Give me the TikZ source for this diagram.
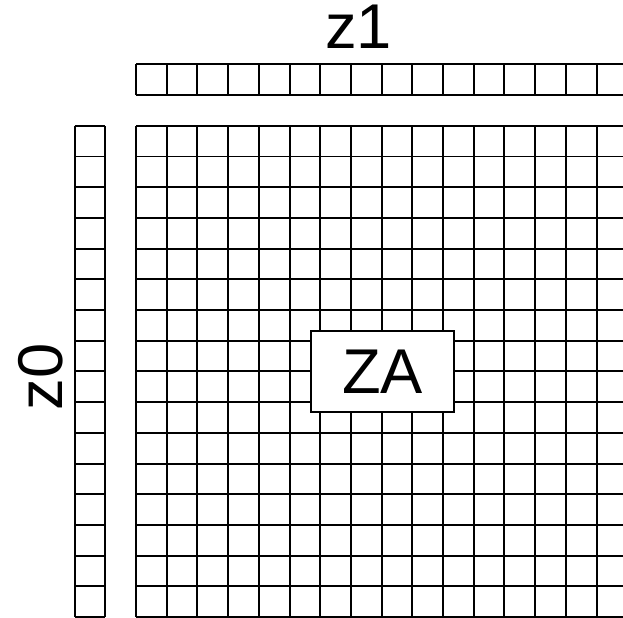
\documentclass[tikz,border=0pt]{standalone}
\usepackage{fontspec}
\setmainfont{Liberation Sans}
\usetikzlibrary{positioning}

\begin{document}
\begin{tikzpicture}[x=0.921cm, y=0.921cm,
    gridline/.style={line width=1.7pt},
    bigtext/.style={font=\fontsize{54}{60}\selectfont, inner sep=0pt}]
    \useasboundingbox (0,0) rectangle (20.293,20.098);
    \clip (0,0) rectangle (20.293,20.098);
    % main array
    \draw[gridline, step={(1,1)}, shift={(4.43,0)}] (0,0) grid (16.001,16.001);
    % top row and left column
    \draw[gridline, step={(1,1)}, shift={(4.43,17)}] (0,0) grid (16.001,1.001);
    \draw[gridline, step={(1,1)}, shift={(2.43,0)}] (0,0) grid (1.001,16.001);
    \node[gridline, bigtext, draw, fill=white, minimum width=4.31cm, minimum height=2.42cm] (za) at (12.46,8.0) {ZA};
    \node[bigtext] (zone) at (11.68,19.22) {z1};
    \node[bigtext, rotate=90] (zzero) at (1.34,7.82) {z0};
\end{tikzpicture}
\end{document}
